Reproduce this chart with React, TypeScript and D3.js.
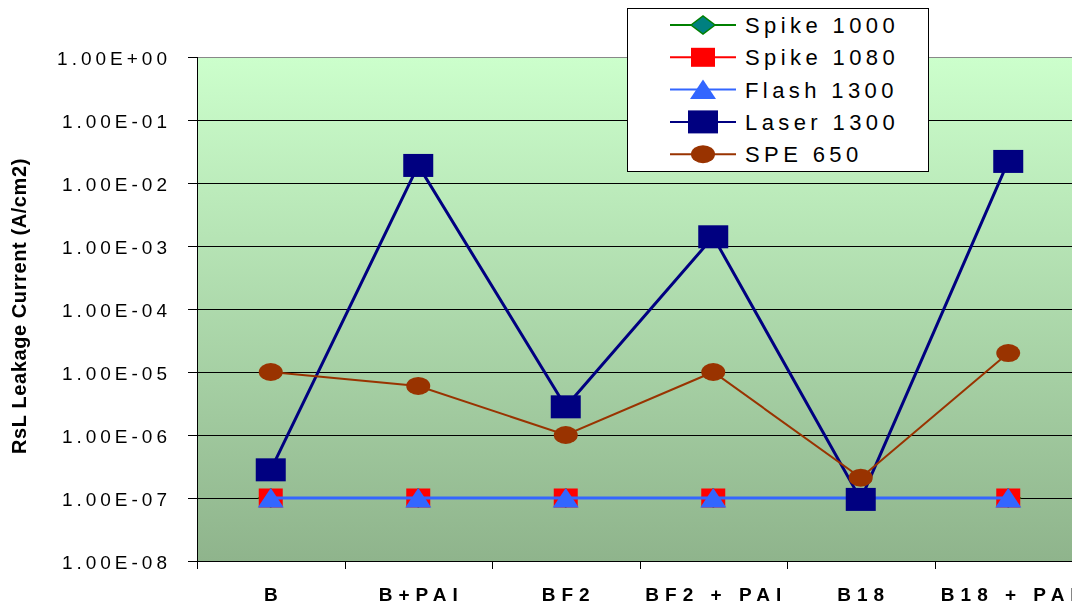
import React, { useRef, useEffect } from "react";
import * as d3 from "d3";

// categories along the x axis
const categories = ["B", "B+PAI", "BF2", "BF2 + PAI", "B18", "B18 + PAI"];

// series values (A/cm2)
const spike1000 = [1e-7, 1e-7, 1e-7, 1e-7, 1e-7, 1e-7];
const spike1080 = [1e-7, 1e-7, 1e-7, 1e-7, 1e-7, 1e-7];
const flash1300 = [1e-7, 1e-7, 1e-7, 1e-7, 1e-7, 1e-7];
const laser1300 = [2.8e-7, 1.9e-2, 2.8e-6, 1.4e-3, 0.95e-7, 2.2e-2];
const spe650 = [1e-5, 6e-6, 1e-6, 1e-5, 2.1e-7, 2e-5];

const yTicks = [1, 1e-1, 1e-2, 1e-3, 1e-4, 1e-5, 1e-6, 1e-7, 1e-8];
const yTickLabels = [
  "1.00E+00", "1.00E-01", "1.00E-02", "1.00E-03", "1.00E-04",
  "1.00E-05", "1.00E-06", "1.00E-07", "1.00E-08",
];

const seriesNames = ["Spike 1000", "Spike 1080", "Flash 1300", "Laser 1300", "SPE 650"];

const App = () => {
  const svgRef = useRef(null);

  useEffect(() => {
    if (!svgRef.current) return;
    const width = 1072;
    const height = 606;
    const plot = { left: 197, top: 57, right: 1082, bottom: 561 };

    const svg = d3.select(svgRef.current).attr("width", width).attr("height", height);
    svg.selectAll("*").remove();

    const defs = svg.append("defs");
    const grad = defs
      .append("linearGradient")
      .attr("id", "bg")
      .attr("x1", 0).attr("y1", 0).attr("x2", 0).attr("y2", 1);
    grad.append("stop").attr("offset", "0%").attr("stop-color", "#ccffcc");
    grad.append("stop").attr("offset", "100%").attr("stop-color", "#8fb48c");

    const x = d3
      .scalePoint()
      .domain(categories)
      .range([plot.left, plot.right])
      .padding(0.5);
    const step = x.step();

    const y = d3.scaleLog().domain([1e-8, 1]).range([plot.bottom, plot.top]);

    // plot background
    svg
      .append("rect")
      .attr("x", plot.left)
      .attr("y", plot.top)
      .attr("width", plot.right - plot.left)
      .attr("height", plot.bottom - plot.top)
      .style("fill", "url(#bg)");

    // gridlines + y ticks
    yTicks.forEach((t, i) => {
      const yy = Math.round(y(t)) + 0.5;
      if (i < yTicks.length - 1) {
        svg
          .append("line")
          .attr("x1", plot.left).attr("x2", plot.right)
          .attr("y1", yy).attr("y2", yy)
          .style("stroke", i === 0 ? "#888" : "#000")
          .style("stroke-width", 1);
      }
      svg
        .append("line")
        .attr("x1", plot.left - 9).attr("x2", plot.left)
        .attr("y1", yy).attr("y2", yy)
        .style("stroke", "#000");
      svg
        .append("text")
        .attr("x", 171)
        .attr("y", yy + 7)
        .attr("text-anchor", "end")
        .style("font-family", "Arial, 'Liberation Sans', sans-serif")
        .style("font-size", "19px")
        .style("letter-spacing", "4px")
        .style("fill", "#000")
        .text(yTickLabels[i]);
    });

    // axes lines
    svg
      .append("line")
      .attr("x1", plot.left + 0.5).attr("x2", plot.left + 0.5)
      .attr("y1", plot.top).attr("y2", plot.bottom)
      .style("stroke", "#000");
    svg
      .append("line")
      .attr("x1", plot.left).attr("x2", plot.right)
      .attr("y1", plot.bottom + 0.5).attr("y2", plot.bottom + 0.5)
      .style("stroke", "#000");

    // x ticks at category boundaries
    for (let i = 0; i <= categories.length; i++) {
      const xx = Math.round(plot.left + i * step) + 0.5;
      svg
        .append("line")
        .attr("x1", xx).attr("x2", xx)
        .attr("y1", plot.bottom).attr("y2", plot.bottom + 8)
        .style("stroke", "#000");
    }

    categories.forEach((c) => {
      svg
        .append("text")
        .attr("x", x(c) + 3)
        .attr("y", 601)
        .attr("text-anchor", "middle")
        .style("font-family", "Arial, 'Liberation Sans', sans-serif")
        .style("font-size", "19px")
        .style("font-weight", "bold")
        .style("letter-spacing", "6px")
        .text(c);
    });

    // y axis title
    svg
      .append("text")
      .attr("transform", `translate(26, ${(plot.top + plot.bottom) / 2 - 3}) rotate(-90)`)
      .attr("text-anchor", "middle")
      .style("font-family", "Arial, 'Liberation Sans', sans-serif")
      .style("font-size", "20px")
      .style("font-weight", "bold")
      .style("letter-spacing", "0.6px")
      .text("RsL Leakage Current (A/cm2)");

    const seriesData = [spike1000, spike1080, flash1300, laser1300, spe650];
    const colors = ["#008000", "#ff0000", "#3366ff", "#000080", "#993300"];
    const lineWidths = [2, 2, 3, 3, 2];

    const drawMarker = (g, k, cx, cy) => {
      if (k === 0) {
        g.append("path")
          .attr("d", `M${cx - 12},${cy} L${cx},${cy - 9} L${cx + 12},${cy} L${cx},${cy + 9} Z`)
          .style("fill", "#008080")
          .style("stroke", "#008000")
          .style("stroke-width", 1.5);
      } else if (k === 1) {
        g.append("rect")
          .attr("x", cx - 12).attr("y", cy - 9.5)
          .attr("width", 24).attr("height", 19)
          .style("fill", "#ff0000");
      } else if (k === 2) {
        g.append("path")
          .attr("d", `M${cx - 13},${cy + 9.5} L${cx},${cy - 10} L${cx + 13},${cy + 9.5} Z`)
          .style("fill", "#3366ff");
      } else if (k === 3) {
        g.append("rect")
          .attr("x", cx - 15).attr("y", cy - 11.5)
          .attr("width", 30).attr("height", 23)
          .style("fill", "#000080");
      } else {
        g.append("ellipse")
          .attr("cx", cx).attr("cy", cy)
          .attr("rx", 12).attr("ry", 9)
          .style("fill", "#993300");
      }
    };

    const line = d3
      .line<number>()
      .x((d, i) => x(categories[i]))
      .y((d) => y(d));

    seriesData.forEach((vals, k) => {
      const g = svg.append("g");
      g.append("path")
        .datum(vals)
        .attr("d", line)
        .style("fill", "none")
        .style("stroke", colors[k])
        .style("stroke-width", lineWidths[k]);
      vals.forEach((v, i) => drawMarker(g, k, x(categories[i]), y(v)));
    });

    // legend
    const legend = svg.append("g");
    legend
      .append("rect")
      .attr("x", 627.5).attr("y", 8.5)
      .attr("width", 301).attr("height", 163)
      .style("fill", "#fff")
      .style("stroke", "#000")
      .style("stroke-width", 1);
    seriesNames.forEach((name, k) => {
      const yy = 25 + k * 32.3;
      legend
        .append("line")
        .attr("x1", 670).attr("x2", 736)
        .attr("y1", yy).attr("y2", yy)
        .style("stroke", colors[k])
        .style("stroke-width", 2);
      drawMarker(legend, k, 703, yy);
      legend
        .append("text")
        .attr("x", 745)
        .attr("y", yy + 8)
        .style("font-family", "Arial, 'Liberation Sans', sans-serif")
        .style("font-size", "22px")
        .style("letter-spacing", "4.4px")
        .style("fill", "#000")
        .text(name);
    });
  });

  return (
    <div style={{ position: "fixed", left: 0, top: 0 }}>
      <svg ref={svgRef} style={{ display: "block" }} />
    </div>
  );
};

export default App;
